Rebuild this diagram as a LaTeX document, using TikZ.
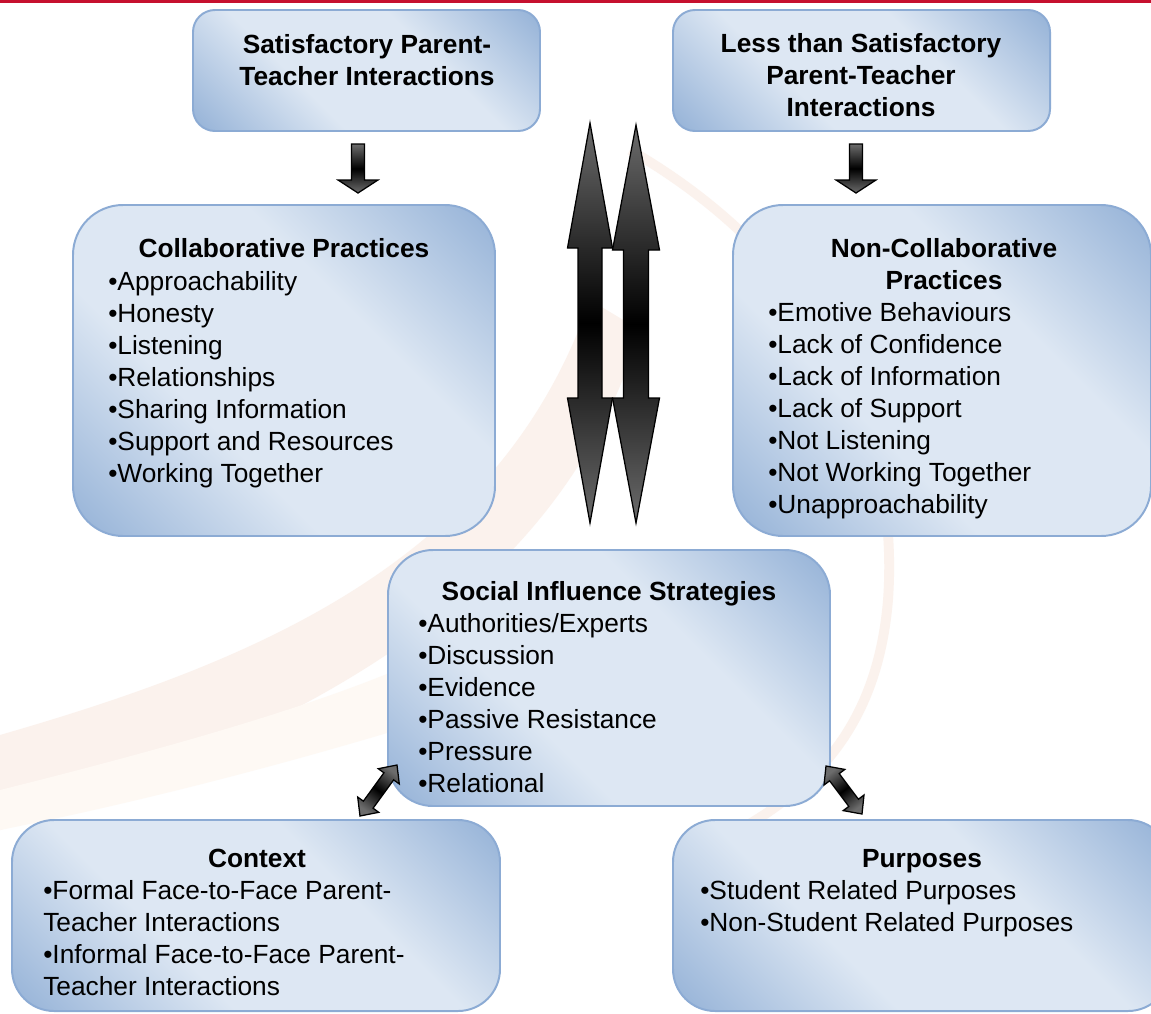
\documentclass[tikz,border=0pt]{standalone}
\usepackage{fontspec}
\setmainfont{Liberation Sans}
\usetikzlibrary{calc,positioning}
\definecolor{boxlight}{RGB}{221,231,243}
\definecolor{boxdark}{RGB}{146,176,214}
\definecolor{boxline}{RGB}{140,171,212}
\definecolor{arrgrey}{RGB}{108,108,108}
\definecolor{topred}{RGB}{198,16,46}
\definecolor{swooshA}{RGB}{251,242,237}
\definecolor{swooshB}{RGB}{254,249,244}

\newcommand{\upx}{0.7113pt}
\newcommand{\figfont}{\fontsize{18.7}{22.8}\selectfont}

\pgfdeclareverticalshading{boxshade}{100bp}{color(0bp)=(boxdark); color(14bp)=(boxdark); color(38bp)=(boxlight); color(62bp)=(boxlight); color(86bp)=(boxdark); color(100bp)=(boxdark)}
\pgfdeclareverticalshading{arrshade}{100bp}{color(0bp)=(arrgrey); color(25bp)=(arrgrey); color(50bp)=(black); color(75bp)=(arrgrey); color(100bp)=(arrgrey)}

% block arrows: [style]{from}{to}{head length}{shaft half width}{head half width}
\newcommand{\dblblock}[6][]{%
  \path[#1] (#2)
    -- ($(#2)!#4*\upx!(#3)!#6*\upx!90:(#3)$) -- ($(#2)!#4*\upx!(#3)!#5*\upx!90:(#3)$)
    -- ($(#3)!#4*\upx!(#2)!#5*\upx!90:(#3)$) -- ($(#3)!#4*\upx!(#2)!#6*\upx!90:(#3)$)
    -- (#3)
    -- ($(#3)!#4*\upx!(#2)!#6*\upx!-90:(#3)$) -- ($(#3)!#4*\upx!(#2)!#5*\upx!-90:(#3)$)
    -- ($(#2)!#4*\upx!(#3)!#5*\upx!-90:(#3)$) -- ($(#2)!#4*\upx!(#3)!#6*\upx!-90:(#3)$)
    -- cycle;}
\newcommand{\oneblock}[6][]{%
  \path[#1] ($(#2)!#5*\upx!90:(#3)$)
    -- ($(#3)!#4*\upx!(#2)!#5*\upx!90:(#3)$) -- ($(#3)!#4*\upx!(#2)!#6*\upx!90:(#3)$)
    -- (#3)
    -- ($(#3)!#4*\upx!(#2)!#6*\upx!-90:(#3)$) -- ($(#3)!#4*\upx!(#2)!#5*\upx!-90:(#3)$)
    -- ($(#2)!#5*\upx!-90:(#3)$)
    -- cycle;}

\begin{document}
\begin{tikzpicture}[x=0.7113pt,y=-0.7113pt]
    \tikzstyle{every node}=[font=\figfont, inner sep=0pt]
    \tikzstyle{box}=[draw=boxline, line width=1.4pt, shade, shading=boxshade, shading angle=-45]
    \tikzstyle{ttl}=[font=\figfont\bfseries, anchor=base]
    \tikzstyle{item}=[anchor=base west]
    \tikzstyle{blockarrow}=[draw=black, line width=0.9pt, shade, shading=arrshade, line join=miter]

    \clip (0,0) rectangle (1151,1013);
    \fill[white] (0,0) rectangle (1151,1013);

    % Background swoosh
    \fill[swooshA] (0,735) .. controls (260,660) and (500,560) .. (590,300) -- (640,330) .. controls (560,600) and (300,730) .. (0,830) -- cycle;
    \fill[swooshB] (0,790) .. controls (200,740) and (330,700) .. (420,660) -- (430,720) .. controls (300,760) and (150,800) .. (0,830) -- cycle;
    \draw[swooshA, line width=7pt] (630,150) .. controls (820,260) and (900,430) .. (888,600) .. controls (878,720) and (820,790) .. (720,840);

    % Top line
    \fill[topred] (0,0) rectangle (1151,2.5);

    % Boxes
    \node[box, minimum width=347*\upx, minimum height=121*\upx, rounded corners=22*\upx] at (366.5,70.5) (sat) {} ;
    \node[box, minimum width=377*\upx, minimum height=121*\upx, rounded corners=22*\upx] at (861.5,70.5) (less) {} ;
    \node[box, minimum width=422*\upx, minimum height=331*\upx, rounded corners=50*\upx] at (284,370.5) (collab) {} ;
    \node[box, minimum width=418*\upx, minimum height=331*\upx, rounded corners=50*\upx] at (942,370.5) (noncollab) {} ;
    \node[box, minimum width=442*\upx, minimum height=256*\upx, rounded corners=45*\upx] at (609,678) (social) {} ;
    \node[box, minimum width=488*\upx, minimum height=191*\upx, rounded corners=42*\upx] at (256,915.5) (context) {} ;
    \node[box, minimum width=497*\upx, minimum height=191*\upx, rounded corners=42*\upx] at (921.5,915.5) (purposes) {} ;

    % Arrows
    \coordinate (satA) at (358,144);
    \coordinate (satB) at (358,193);
    \coordinate (lessA) at (856,144);
    \coordinate (lessB) at (856,193);
    \oneblock[blockarrow]{satA}{satB}{13}{6.5}{20}
    \oneblock[blockarrow]{lessA}{lessB}{13}{6.5}{20}

    \coordinate (upL) at (590,123);
    \coordinate (dnL) at (590,523);
    \coordinate (upR) at (636,125);
    \coordinate (dnR) at (636,523);
    \dblblock[blockarrow]{upL}{dnL}{125}{12}{22.5}
    \dblblock[blockarrow]{upR}{dnR}{125}{12.5}{23.5}

    \coordinate (ctxA) at (360,816);
    \coordinate (ctxB) at (397,765);
    \coordinate (purA) at (826,766);
    \coordinate (purB) at (862,814);
    \dblblock[blockarrow, shading angle=-36]{ctxA}{ctxB}{14}{6}{13}
    \dblblock[blockarrow, shading angle=37]{purA}{purB}{14}{6}{13}

    % Texts
    \node[ttl] at (367,53) (satT1) {Satisfactory Parent-} ;
    \node[ttl] at (367,85) (satT2) {Teacher Interactions} ;

    \node[ttl] at (861,52) (lessT1) {Less than Satisfactory} ;
    \node[ttl] at (861,84) (lessT2) {Parent-Teacher} ;
    \node[ttl] at (861,116) (lessT3) {Interactions} ;

    \node[ttl] at (284,257) (collabT) {Collaborative Practices} ;
    \foreach \t [count=\i] in {Approachability,Honesty,Listening,Relationships,Sharing Information,Support and Resources,Working Together}
        \node[item] at (108,{258+32*\i}) (collab\i) {•\t} ;

    \node[ttl] at (944,257) (noncollabT1) {Non-Collaborative} ;
    \node[ttl] at (944,289) (noncollabT2) {Practices} ;
    \foreach \t [count=\i] in {Emotive Behaviours,Lack of Confidence,Lack of Information,Lack of Support,Not Listening,Not Working Together,Unapproachability}
        \node[item] at (768,{289+32*\i}) (noncollab\i) {•\t} ;

    \node[ttl] at (609,600) (socialT) {Social Influence Strategies} ;
    \foreach \t [count=\i] in {Authorities/Experts,Discussion,Evidence,Passive Resistance,Pressure,Relational}
        \node[item] at (418,{600+32*\i}) (social\i) {•\t} ;

    \node[ttl] at (257,867) (contextT) {Context} ;
    \foreach \t [count=\i] in {•Formal Face-to-Face Parent-,Teacher Interactions,•Informal Face-to-Face Parent-,Teacher Interactions}
        \node[item] at (43,{867+32*\i}) (context\i) {\t} ;

    \node[ttl] at (922,867) (purposesT) {Purposes} ;
    \foreach \t [count=\i] in {Student Related Purposes,Non-Student Related Purposes}
        \node[item] at (700,{867+32*\i}) (purposes\i) {•\t} ;

\end{tikzpicture}
\end{document}
